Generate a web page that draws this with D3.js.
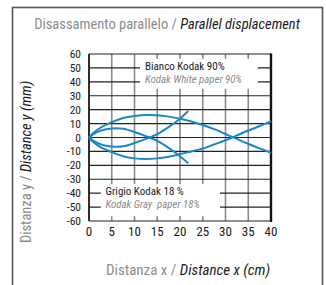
<!DOCTYPE html>
<html>
<head>
<meta charset="utf-8">
<script src="https://cdn.jsdelivr.net/npm/d3@7"></script>
<style>
  body { margin: 0; background: #fff; }
  svg text { font-family: "Liberation Sans Narrow", "Roboto Condensed", "Liberation Sans", sans-serif; white-space: pre; }
  .grid-v { stroke: #8a8a8a; stroke-width: 1.6; }
  .grid-h { stroke: #222; stroke-width: 1.2; }
  .curve { fill: none; stroke: #1a87c6; stroke-width: 2; }
  .gray { fill: #8c8c8c; }
  .dark { fill: #1a1a1a; }
</style>
</head>
<body>
<div id="chart"></div>
<script>
// --- Parallel displacement: four beam traces, distance y (mm) vs distance x (cm) ---

const xTicks = [0, 5, 10, 15, 20, 25, 30, 35, 40];
const yTicks = [60, 50, 40, 30, 20, 10, 0, -10, -20, -30, -40, -50, -60];

const upperLong = [[0,0],[1,3.5],[2.5,7],[5,11],[7.5,14],[10,15.5],[12.5,16.2],[15,16],[17.5,15],[20,13.5],
  [22.5,11.5],[25,9],[27.5,6],[30,2.5],[32.5,-1],[35,-4.5],[37.5,-7.8],[40,-11]];
const lowerLong = [[0,0],[1,-3.5],[2.5,-7],[5,-10.5],[7.5,-13.5],[10,-15],[12.5,-15.5],[15,-15],[17.5,-13.8],[20,-12],
  [22.5,-10],[25,-8],[27.5,-5],[30,-2],[32.5,1.5],[35,5],[37.5,8.3],[40,11.5]];
const upperShort = [[0,0],[1,2.5],[2.5,4.8],[5,6.5],[7.5,6.3],[10,4],[12.5,1],[15,-2.5],[17.5,-7.5],[20,-13.5],[21.8,-18.5]];
const lowerShort = [[0,0],[1,-2.5],[2.5,-4.8],[5,-6.5],[7.5,-6.3],[10,-4],[12.5,-1],[15,2.5],[17.5,7.5],[20,13.5],[21.8,19]];

const whiteLabel = ['Bianco Kodak 90%', 'Kodak White paper 90%'];
const grayLabel = ['Grigio Kodak 18 %', 'Kodak Gray  paper 18%'];

const W = 326, H = 285;
const svg = d3.select('#chart').append('svg').attr('width', W).attr('height', H);

// outer frame (bottom runs off the picture)
svg.append('rect')
  .attr('x', 12.5).attr('y', 7.5)
  .attr('width', 310).attr('height', 300)
  .attr('fill', 'none').attr('stroke', '#555').attr('stroke-width', 1.6);

const x = d3.scaleLinear().domain([0, 40]).range([89, 271]);
const y = d3.scaleLinear().domain([-60, 60]).range([221, 54]);

const plot = svg.append('g');

plot.selectAll('.grid-v').data(xTicks).join('line')
  .attr('class', 'grid-v')
  .attr('x1', d => x(d)).attr('x2', d => x(d))
  .attr('y1', y(60)).attr('y2', y(-60));

plot.selectAll('.grid-h').data(yTicks).join('line')
  .attr('class', 'grid-h')
  .attr('x1', x(0)).attr('x2', x(40))
  .attr('y1', d => y(d)).attr('y2', d => y(d));

// frame of the plot area
plot.append('line').attr('x1', x(0)).attr('x2', x(0)).attr('y1', y(60)).attr('y2', y(-60))
  .attr('stroke', '#111').attr('stroke-width', 1.6);
plot.append('line').attr('x1', x(40)).attr('x2', x(40)).attr('y1', y(60) - 0.5).attr('y2', y(-60) + 1)
  .attr('stroke', '#111').attr('stroke-width', 2.4);

const lineGen = d3.line()
  .x(d => x(d[0]))
  .y(d => y(d[1]))
  .curve(d3.curveCatmullRom.alpha(0.5));

[upperLong, lowerLong, upperShort, lowerShort].forEach(s => {
  plot.append('path').datum(s).attr('class', 'curve').attr('d', lineGen);
});

// legend boxes sit on top of the grid
function legend(x0, x1, yTop, yBot, lines, tx) {
  svg.append('rect')
    .attr('x', x(x0)).attr('y', y(yTop))
    .attr('width', x(x1) - x(x0)).attr('height', y(yBot) - y(yTop))
    .attr('fill', '#fff');
  svg.append('text').attr('class', 'dark')
    .attr('x', tx).attr('y', y(yTop) + 11)
    .attr('font-size', 11).text(lines[0]);
  svg.append('text').attr('class', 'gray')
    .attr('x', tx).attr('y', y(yTop) + 24)
    .attr('font-size', 10.8).attr('font-style', 'italic').text(lines[1]);
}
legend(11.2, 37.1, 56.5, 35, whiteLabel, 145);
legend(2.6, 28.8, -33.5, -56.5, grayLabel, 105.5);

// tick labels
svg.selectAll('.ytl').data(yTicks).join('text')
  .attr('class', 'ytl dark')
  .attr('x', 81).attr('y', d => y(d) + 4)
  .attr('text-anchor', 'end').attr('font-size', 11.5)
  .text(d => d);

svg.selectAll('.xtl').data(xTicks).join('text')
  .attr('class', 'xtl dark')
  .attr('x', d => x(d)).attr('y', 236)
  .attr('text-anchor', 'middle').attr('font-size', 13)
  .text(d => d);

// titles
const title = svg.append('text').attr('x', 167).attr('y', 28.5)
  .attr('text-anchor', 'middle').attr('font-size', 14.5);
title.append('tspan').attr('class', 'gray').text('Disassamento parallelo / ');
title.append('tspan').attr('class', 'dark').attr('font-style', 'italic').text('Parallel displacement');

const xt = svg.append('text').attr('x', 188).attr('y', 275)
  .attr('text-anchor', 'middle').attr('font-size', 15);
xt.append('tspan').attr('class', 'gray').text('Distanza x / ');
xt.append('tspan').attr('class', 'dark').attr('font-style', 'italic').text('Distance x (cm)');

const yt = svg.append('text').attr('transform', 'translate(31,162) rotate(-90)')
  .attr('text-anchor', 'middle').attr('font-size', 14.5);
yt.append('tspan').attr('class', 'gray').text('Distanza y / ');
yt.append('tspan').attr('class', 'dark').attr('font-style', 'italic').text('Distance y (mm)');
</script>
</body>
</html>
